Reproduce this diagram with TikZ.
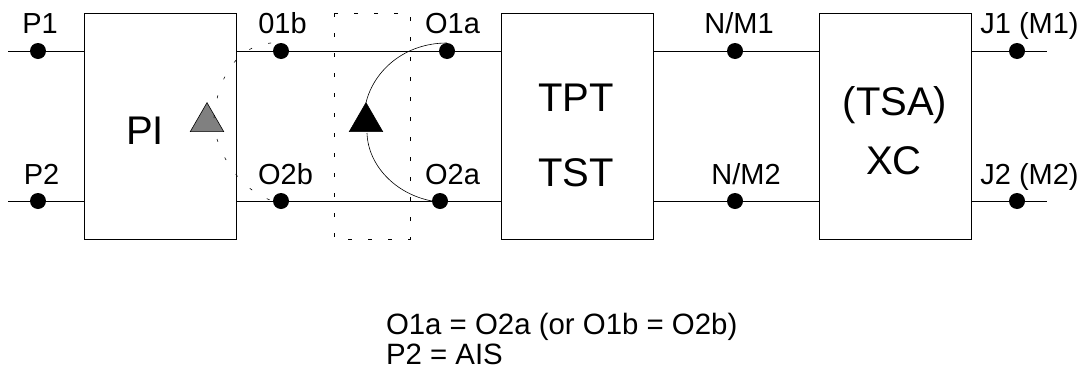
\documentclass[tikz,border=0pt]{standalone}
\usepackage{fontspec}
\setmainfont{Liberation Sans}
\usetikzlibrary{shapes.geometric}

\begin{document}
\begin{tikzpicture}[x=1pt,y=-1pt,line width=0.9pt]
          \tikzstyle{every node}=[inner sep=0pt,outer sep=0pt]
          \tikzstyle{block}=[draw,minimum width=152pt,minimum height=226pt]
          \tikzstyle{big}=[anchor=base,font=\fontsize{40}{40}\selectfont]
          \tikzstyle{dot}=[circle,fill=black,minimum size=16pt]
          \tikzstyle{lbl}=[anchor=base,font=\fontsize{29}{29}\selectfont]
          \tikzstyle{note}=[anchor=base west,font=\fontsize{29.4}{29.4}\selectfont]
          \tikzstyle{switch}=[draw,isosceles triangle,isosceles triangle apex angle=60,shape border rotate=90,minimum height=29pt,line width=0.6pt]
          \tikzstyle{arc}=[line width=0.6pt]
          \tikzstyle{idle}=[line width=0.6pt,dash pattern=on 3pt off 17pt]

          \useasboundingbox (0,0) rectangle (1085,370);

          \node[block] (pi)  at (160,126) {};
          \node[block] (tpt) at (577,126) {};
          \node[block] (xc)  at (895,126) {};

          \node[big] (tpi)  at (145,144) {PI};
          \node[big] (ttpt) at (576,111) {TPT};
          \node[big] (ttst) at (576,186) {TST};
          \node[big] (ttsa) at (895,115) {(TSA)};
          \node[big] (txc)  at (894,174) {XC};

          \node[dot] (p1)  at (38,51)    {};
          \node[dot] (p2)  at (38,201)   {};
          \node[dot] (o1b) at (281,51)   {};
          \node[dot] (o2b) at (281,201)  {};
          \node[dot] (o1a) at (447,51)   {};
          \node[dot] (o2a) at (440,201)  {};
          \node[dot] (m1)  at (735,51)   {};
          \node[dot] (m2)  at (735,201)  {};
          \node[dot] (j1)  at (1017,51)  {};
          \node[dot] (j2)  at (1017,201) {};

          \coordinate (in1)  at (8,51);
          \coordinate (in2)  at (8,201);
          \coordinate (out1) at (1047,51);
          \coordinate (out2) at (1047,201);

          \node[switch,fill=gray]  (sb) at (207,122) {};
          \node[switch,fill=black] (sa) at (366,122) {};

          \coordinate (sbtop) at (214,118);
          \coordinate (sbbot) at (217,139);
          \coordinate (sabot) at (367,133);

          \node[lbl] (tp1)  at (40,33)     {P1};
          \node[lbl] (tp2)  at (41.5,184)  {P2};
          \node[lbl] (to1b) at (282.5,33)  {01b};
          \node[lbl] (to2b) at (285.5,184) {O2b};
          \node[lbl] (to1a) at (452.5,33)  {O1a};
          \node[lbl] (to2a) at (452.5,184) {O2a};
          \node[lbl] (tm1)  at (739,33)    {N/M1};
          \node[lbl] (tm2)  at (746,184)   {N/M2};
          \node[lbl] (tj1)  at (1029.5,33)  {J1 (M1)};
          \node[lbl] (tj2)  at (1029.5,184) {J2 (M2)};

          \node[note] (note1) at (386,334) {O1a = O2a (or O1b = O2b)};
          \node[note] (note2) at (386,364) {P2 = AIS};

          \path[draw]
          (in1)  -- (p1)
          (in2)  -- (p2)
          (p1)   -- (p1 -| pi.west)
          (p2)   -- (p2 -| pi.west)
          (pi.east |- o1b) -- (o1b)
          (pi.east |- o2b) -- (o2b)
          (o1b)  -- (o1a)
          (o2b)  -- (o2a)
          (o1a)  -- (o1a -| tpt.west)
          (o2a)  -- (o2a -| tpt.west)
          (tpt.east |- m1) -- (m1)
          (tpt.east |- m2) -- (m2)
          (m1)   -- (m1 -| xc.west)
          (m2)   -- (m2 -| xc.west)
          (xc.east |- j1) -- (j1)
          (xc.east |- j2) -- (j2)
          (j1)   -- (out1)
          (j2)   -- (out2);

          % protection switch arcs
          \draw[arc] (sa.apex) .. controls (374,70) and (405,43) .. (o1a.north);
          \draw[arc] (sabot) .. controls (368,165) and (395,194) .. (o2a.west);
          \draw[idle] (sbtop) .. controls (218,72) and (242,40) .. (o1b.north);
          \draw[idle] (sbbot) .. controls (225,165) and (245,192) .. (o2b.west);

          \draw[line width=0.8pt,dash pattern=on 4pt off 16pt] (334,13) rectangle (410,239);
\end{tikzpicture}
\end{document}
